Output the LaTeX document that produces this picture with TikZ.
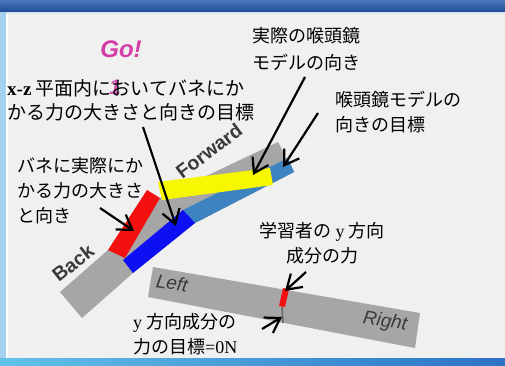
\documentclass[tikz,border=0pt]{standalone}
\usepackage{fontspec}
\setmainfont{Liberation Serif}
\newfontfamily\jp{Noto Sans CJK JP}
\newfontfamily\arial{Liberation Sans}
\usetikzlibrary{arrows.meta}
\definecolor{winbg}{HTML}{F0F0F0}
\definecolor{titledark}{HTML}{1D4C98}
\definecolor{titlelight}{HTML}{4A78BE}
\definecolor{frameleft}{HTML}{A6D0F0}
\definecolor{framecyan}{HTML}{62C2E8}
\definecolor{frameblue}{HTML}{2C72C6}
\definecolor{bargray}{HTML}{A6A6A6}
\definecolor{steel}{HTML}{3D83C0}
\definecolor{barblue}{HTML}{0C10F2}
\definecolor{barred}{HTML}{F21010}
\definecolor{baryellow}{HTML}{F7F700}
\definecolor{gomag}{HTML}{D43CA8}
\definecolor{sidetext}{HTML}{3A3A3A}
\begin{document}
\begin{tikzpicture}[x=1pt,y=-1pt,
  note/.style={font=\jp\fontsize{18}{25}\selectfont,align=left,inner sep=0pt,anchor=north west},
  pointer/.style={-{Straight Barb[length=14pt,width=18pt]},line width=2.2pt},
  side/.style={font=\arial\bfseries\fontsize{19.5}{19.5}\selectfont,text=sidetext,inner sep=0pt},
  lr/.style={font=\arial\itshape\fontsize{19}{19}\selectfont,text=sidetext,inner sep=0pt}]
  \useasboundingbox (0,0) rectangle (505,365);
  \fill[winbg] (0,0) rectangle (505,365);
  \shade[top color=titlelight,bottom color=titledark] (0,0) rectangle (505,12);
  \fill[white!80!titlelight] (0,12) rectangle (505,13.5);
  \fill[frameleft] (0,12) rectangle (6,358);
  \fill[white] (6,13.5) rectangle (7.5,358);
  \shade[left color=framecyan,right color=frameblue] (0,358) rectangle (505,365);

  \fill[bargray] (60,292) -- (108,250) -- (160,198) -- (278,142) -- (294,172) -- (195,223) -- (133,273) -- (82,318) -- cycle;
  \fill[steel] (183,210) -- (288,158) -- (294,172) -- (195,223) -- cycle;
  \fill[barblue] (123,260) -- (183,210) -- (195,223) -- (133,273) -- cycle;
  \fill[baryellow] (158,182) -- (270,168) -- (273,185) -- (162,200) -- cycle;
  \fill[barred] (147,190) -- (160,198) -- (125,258) -- (108,250) -- cycle;

  \fill[bargray] (153,267) -- (420,313) -- (415,348) -- (148,297) -- cycle;
  \fill[barred] (283,288) -- (289,289) -- (285,307) -- (279,306) -- cycle;
  \draw[black!60,line width=1.5pt] (282,307) -- (283,323);

  \node[side,rotate=37] (fwd) at (209,151) {Forward};
  \node[side,rotate=38] (back) at (73,263) {Back};
  \node[lr,rotate=-9] (left) at (172,283) {Left};
  \node[lr,rotate=-9] (right) at (385,322) {Right};
  \node[font=\arial\bfseries\itshape\fontsize{24}{24}\selectfont,text=gomag,inner sep=0pt] (go) at (121,49) {Go!};
  \node[font=\arial\bfseries\itshape\fontsize{21}{21}\selectfont,text=gomag,opacity=0.85,inner sep=0pt] (count) at (115,87) {1};

  \node[note,font=\jp\fontsize{18}{27}\selectfont] (realdir) at (252,27) {実際の喉頭鏡\\モデルの向き};
  \node[note,font=\jp\fontsize{19}{24}\selectfont] (xzgoal) at (7,79) {{\rmfamily\bfseries x-z} 平面内においてバネにか\\かる力の大きさと向きの目標};
  \node[note] (goaldir) at (335,91) {喉頭鏡モデルの\\向きの目標};
  \node[note] (realforce) at (17,157) {バネに実際にか\\かる力の大きさ\\と向き};
  \node[note,align=center,anchor=north] (yforce) at (322,222) {学習者の {\rmfamily y} 方向\\成分の力};
  \node[note] (ygoal) at (133,313) {{\rmfamily y} 方向成分の\\力の目標{\rmfamily =0N}};

  \coordinate (realdirfrom) at (305,77);
  \coordinate (realdirtip) at (253,175);
  \coordinate (goaldirfrom) at (318,113);
  \coordinate (goaldirtip) at (283,167);
  \coordinate (xzgoalfrom) at (143,127);
  \coordinate (xzgoaltip) at (176,226);
  \coordinate (realforcefrom) at (100,208);
  \coordinate (realforcetip) at (134,231);
  \coordinate (yforcefrom) at (306,272);
  \coordinate (yforcetip) at (285,291);
  \coordinate (ygoalfrom) at (262,329);
  \coordinate (ygoaltip) at (282,317);

  \draw[pointer] (realdirfrom) -- (realdirtip);
  \draw[pointer] (goaldirfrom) -- (goaldirtip);
  \draw[pointer] (xzgoalfrom) -- (xzgoaltip);
  \draw[pointer] (realforcefrom) -- (realforcetip);
  \draw[pointer] (yforcefrom) -- (yforcetip);
  \draw[pointer] (ygoalfrom) -- (ygoaltip);
\end{tikzpicture}
\end{document}
